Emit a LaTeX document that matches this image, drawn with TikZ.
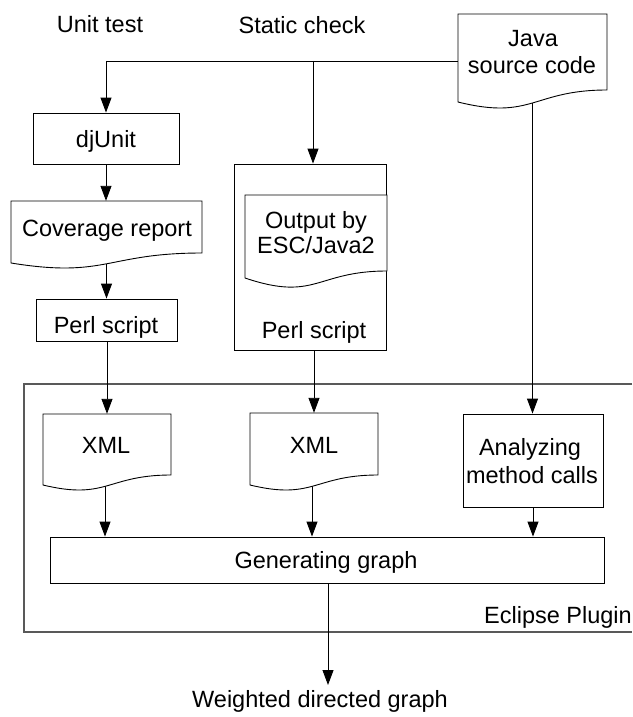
\documentclass[tikz,border=0pt]{standalone}
\usepackage{fontspec}
\setmainfont{Liberation Sans}
\usetikzlibrary{arrows.meta,calc}
\tikzset{
  lbl/.style={inner sep=0pt, anchor=base, font=\fontsize{23.5}{28}\selectfont},
  boxline/.style={draw=black, line width=0.9pt},
  box/.style={boxline, fill=white, inner sep=0pt},
  docnode/.style={draw=none, inner sep=0pt},
  conn/.style={draw=black, line width=0.9pt},
  arr/.style={conn, -{Triangle[width=11pt,length=15pt]}},
  plugin/.style={draw=black!65, line width=1.1pt},
}
% doc shape: left, top, right, left-bottom, right-bottom, wave depth
\newcommand\docdraw[6]{%
  \draw[boxline, fill=white] (#1,#2) -- (#3,#2) -- (#3,#5)
    .. controls ({(#1+#3)/2},#5) and ({(#1+#3)/2},{#4+#6}) .. (#1,#4) -- cycle;}
\begin{document}
\begin{tikzpicture}[x=1pt,y=-1pt]
\useasboundingbox[fill=white] (0,0) rectangle (632,717);

% Eclipse plugin frame (open on the right)
\draw[plugin] (632,384) -- (24,384) -- (24,632) -- (632,632);

% invisible anchors for document shapes
\node[docnode, minimum width=149pt, minimum height=88pt] (java) at (532.5,58) {};
\node[docnode, minimum width=191pt, minimum height=62pt] (cov) at (106.5,232) {};
\node[docnode, minimum width=142pt, minimum height=83pt] (esc) at (316,236.5) {};
\node[docnode, minimum width=128pt, minimum height=71pt] (xmla) at (107,449.5) {};
\node[docnode, minimum width=128pt, minimum height=72pt] (xmlb) at (314,449) {};

% rectangles
\node[box, minimum width=146pt, minimum height=51pt] (dj) at (106,138.5) {};
\node[box, minimum width=141pt, minimum height=42pt] (perla) at (106.5,320) {};
\node[box, minimum width=152pt, minimum height=186pt] (static) at (310,257) {};
\node[box, minimum width=140pt, minimum height=93pt] (ana) at (533,460.5) {};
\node[box, minimum width=554pt, minimum height=46pt] (gen) at (327,560) {};

% connector junctions
\coordinate (jout) at (458,61);
\coordinate (jl) at (106,61);
\coordinate (jm) at (313,61);

% connectors
\draw[conn] (jout) -- (jl);
\draw[arr] (jl) -- (dj.north);
\draw[arr] (jm) -- (jm |- static.north);
\draw[arr] (java.south) -- (java.south |- ana.north);
\draw[arr] (dj.south) -- (dj.south |- cov.north);
\draw[arr] (cov.south) -- (cov.south |- perla.north);
\draw[arr] (perla.south -| xmla.north) -- (xmla.north);
\draw[arr] (static.south -| xmlb.north) -- (xmlb.north);
\draw[arr] ([xshift=-2pt]xmla.south) -- ([xshift=-2pt]xmla.south |- gen.north);
\draw[arr] ([xshift=-2pt]xmlb.south) -- ([xshift=-2pt]xmlb.south |- gen.north);
\draw[arr] (ana.south) -- (ana.south |- gen.north);

% document shapes drawn over connector starts
\docdraw{458}{14}{607}{102}{90}{18.6}
\docdraw{11}{201}{202}{263}{253}{15.5}
\docdraw{245}{195}{387}{278}{271}{24}
\docdraw{43}{414}{171}{485}{475}{15.5}
\docdraw{250}{413}{378}{485}{475}{15.5}

% labels
\node[lbl] (unit) at (100,33) {Unit test};
\node[lbl] (stat) at (302,34) {Static check};
\node[lbl] (javaa) at (533,47) {Java};
\node[lbl] (javab) at (532,74) {source code};
\node[lbl] (djt) at (106,147) {djUnit};
\node[lbl] (covt) at (107,236) {Coverage report};
\node[lbl] (perlat) at (106,333) {Perl script};
\node[lbl] (esca) at (316,228) {Output by};
\node[lbl] (escb) at (316,253) {ESC/Java2};
\node[lbl] (perlbt) at (314,338) {Perl script};
\node[lbl] (xmlat) at (106,453) {XML};
\node[lbl] (xmlbt) at (314,453) {XML};
\node[lbl] (anaa) at (530,455) {Analyzing};
\node[lbl] (anab) at (532,483) {method calls};
\node[lbl] (gent) at (326,568) {Generating graph};
\node[lbl, anchor=base east] (ecl) at (632,623) {Eclipse Plugin};
\node[lbl] (wdg) at (320,707) {Weighted directed graph};

\draw[arr] (gen.south -| 328,0) -- (328,685);
\end{tikzpicture}
\end{document}
